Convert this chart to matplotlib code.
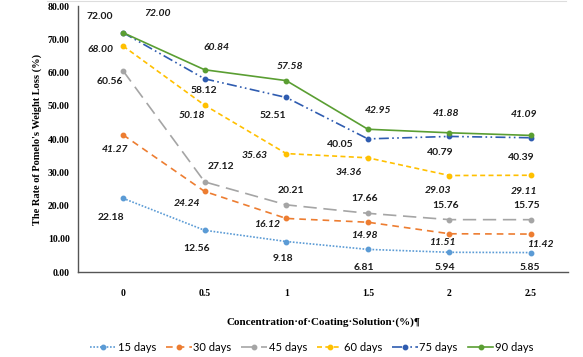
import matplotlib.pyplot as plt
import numpy as np

# data
concentrations = ["0", "0.5", "1", "1.5", "2", "2.5"]
series_names = ["15 days", "30 days", "45 days", "60 days", "75 days", "90 days"]
days_15 = [22.18, 12.56, 9.18, 6.81, 5.94, 5.85]
days_30 = [41.27, 24.24, 16.12, 14.98, 11.51, 11.42]
days_45 = [60.56, 27.12, 20.21, 17.66, 15.76, 15.75]
days_60 = [68.00, 50.18, 35.63, 34.36, 29.03, 29.11]
days_75 = [72.00, 58.12, 52.51, 40.05, 40.79, 40.39]
days_90 = [72.00, 60.84, 57.58, 42.95, 41.88, 41.09]
y_ticks = [0, 10, 20, 30, 40, 50, 60, 70, 80]

series = [days_15, days_30, days_45, days_60, days_75, days_90]
colors = ["#5B9BD5", "#ED7D31", "#A5A5A5", "#FFC000", "#2F5CB0", "#5A9E32"]
styles = [(0, (1, 1)), (0, (4, 3)), (0, (8, 4)), (0, (3, 2)),
          (0, (6, 2, 1, 2, 1, 2)), "-"]
italic = [False, True, False, True, False, True]

# label offsets in pixels (dx right, dy down) per series / point
offsets = [
    [(-12, 19), (-8, 18), (-3, 17), (-4, 18), (-5, 15), (-1, 15)],
    [(-8, 15), (-18, 12), (-19, 6), (-4, 13), (-7, 9), (9, 10)],
    [(-13, 11), (16, -15), (5, -14), (-3, -15), (-4, -14), (-4, -14)],
    [(-23, 4), (-13, 10), (-32, 2), (-19, 15), (-11, 15), (-7, 16)],
    [(-23, -16), (-1, 12), (-13, 18), (-28, 6), (-9, 16), (-10, 20)],
    [(34, -19), (12, -22), (4, -14), (10, -19), (-3, -19), (-7, -21)],
]

fig = plt.figure(figsize=(5.83, 3.57), dpi=100)
ax = fig.add_axes([0.134, 0.238, 0.84, 0.745])

x = np.arange(len(concentrations))
for vals, name, c, ls, it, offs in zip(series, series_names, colors, styles, italic, offsets):
    ax.plot(x, vals, color=c, linestyle=ls, linewidth=1.2, marker="o",
            markersize=3.2, label=name)
    for xi, v, (dx, dy) in zip(x, vals, offs):
        ax.annotate(f"{v:.2f}", (xi, v), xytext=(dx * 0.72, -dy * 0.72),
                    textcoords="offset points", ha="center", va="center",
                    fontsize=7.5, fontweight="bold", family="Lato",
                    style="italic" if it else "normal", color="#1a1a1a")

ax.set_xlim(-0.55, 5.45)
ax.set_ylim(0, 80)
ax.set_xticks(x)
ax.set_xticklabels(concentrations)
ax.set_yticks(y_ticks)
ax.set_yticklabels([f"{t:.2f}" for t in y_ticks])
for lab in ax.get_xticklabels() + ax.get_yticklabels():
    lab.set_family("Liberation Serif")
    lab.set_fontweight("bold")
    lab.set_fontsize(7)
ax.tick_params(length=0, pad=6)
ax.tick_params(axis="x", pad=12)

for s in ["top", "right"]:
    ax.spines[s].set_visible(False)
for s in ["left", "bottom"]:
    ax.spines[s].set_color("#555555")
    ax.spines[s].set_linewidth(1.0)

ax.set_ylabel("The Rate of Pomelo's Weight Loss (%)", family="Liberation Serif",
              fontweight="bold", fontsize=7.5)
ax.set_xlabel("Concentration·of·Coating·Solution·(%)¶", family="Liberation Serif",
              fontweight="bold", fontsize=8, labelpad=14)

fig.legend(loc="center", bbox_to_anchor=(0.535, 0.028), ncol=6, frameon=False,
           prop={"family": "Lato", "size": 8}, handlelength=2.3,
           columnspacing=0.9, handletextpad=0.15, borderpad=0.2)

fig.add_artist(plt.Line2D([0.08, 0.97], [0.997, 0.997], color="#dddddd", lw=0.8))

fig.savefig("out.png", dpi=100)
